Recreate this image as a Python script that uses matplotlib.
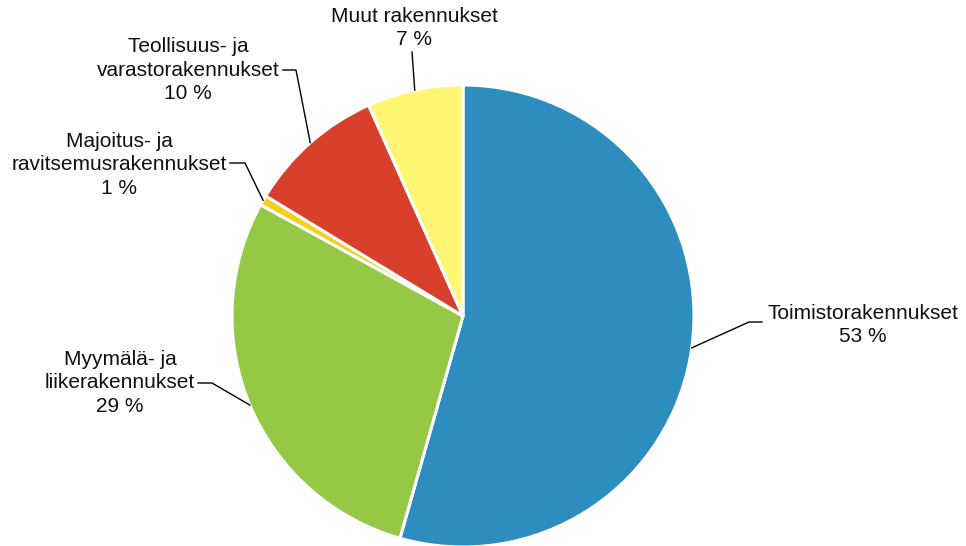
import numpy as np
import matplotlib.pyplot as plt

# --- Data ---
categories = ["Toimistorakennukset", "Myymälä- ja\nliikerakennukset",
              "Majoitus- ja\nravitsemusrakennukset", "Teollisuus- ja\nvarastorakennukset",
              "Muut rakennukset"]
shares = [54.4, 28.6, 0.7, 9.6, 6.7]          # slice sizes as drawn
pct_labels = ["53 %", "29 %", "1 %", "10 %", "7 %"]  # percentages as printed
colors = ["#2E8DBF", "#95C844", "#F3CF1B", "#D9402C", "#FFF774"]

# --- Layout (pixel coords, y measured from top) ---
W, H = 966, 546
cx, cy, r = 463, 316, 231
label_pos = [(863, 325), (120, 383), (119, 165), (188, 70), (414, 28)]
# leader line: points from the text side toward the pie (pie point added later)
leader_pts = [[(762, 322), (749, 322)],
              [(198, 383), (212, 383)],
              [(230, 163), (245, 163)],
              [(283, 70), (296, 70)],
              [(412, 52)]]

plt.rcParams['font.family'] = ['Liberation Sans', 'DejaVu Sans']

fig = plt.figure(figsize=(W / 100, H / 100), dpi=100)
ax = fig.add_axes([0, 0, 1, 1])

wedges, _ = ax.pie(shares, colors=colors, startangle=90, counterclock=False,
                   center=(cx, H - cy), radius=r,
                   wedgeprops=dict(edgecolor="white", linewidth=2.2))

for w, name, pct, (tx, ty), pts in zip(wedges, categories, pct_labels, label_pos, leader_pts):
    mid = np.deg2rad((w.theta1 + w.theta2) / 2)
    px, py = cx + r * np.cos(mid), (H - cy) + r * np.sin(mid)
    xs = [p[0] for p in pts] + [px]
    ys = [H - p[1] for p in pts] + [py]
    ax.plot(xs, ys, color="black", linewidth=1)
    ax.text(tx, H - ty, name + "\n" + pct, ha="center", va="center",
            fontsize=15, linespacing=1.32, color="#111111")

ax.set_xlim(0, W)
ax.set_ylim(0, H)
ax.set_aspect("equal")
ax.axis("off")

fig.savefig("out.png", dpi=100)
